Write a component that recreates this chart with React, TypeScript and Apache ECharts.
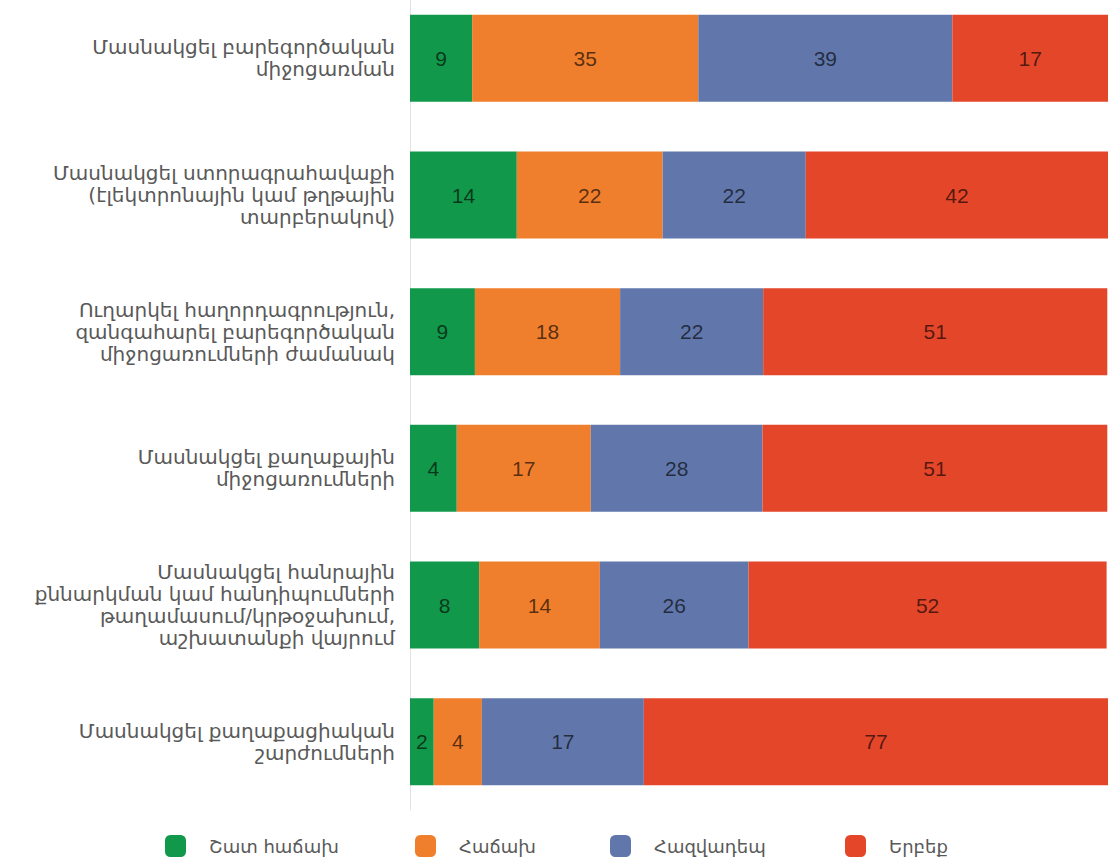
import React, { useEffect, useRef } from "react";
import * as echarts from "echarts";

const categories = [
  "Մասնակցել բարեգործական\nմիջոցառման",
  "Մասնակցել ստորագրահավաքի\n(էլեկտրոնային կամ թղթային\nտարբերակով)",
  "Ուղարկել հաղորդագրություն,\nզանգահարել բարեգործական\nմիջոցառումների ժամանակ",
  "Մասնակցել քաղաքային\nմիջոցառումների",
  "Մասնակցել հանրային\nքննարկման կամ հանդիպումների\nթաղամասում/կրթօջախում,\nաշխատանքի վայրում",
  "Մասնակցել քաղաքացիական\nշարժումների",
];

const seriesNames = ["Շատ հաճախ", "Հաճախ", "Հազվադեպ", "Երբեք"];
const seriesColors = ["#12984a", "#f07f2d", "#6177ab", "#e4462a"];

// bar lengths as drawn in the reference (percent of full width)
const veryOftenBars = [8.9, 15.3, 9.3, 6.7, 9.9, 3.4];
const oftenBars = [32.4, 20.9, 20.8, 19.2, 17.3, 6.9];
const rarelyBars = [36.4, 20.5, 20.5, 24.6, 21.3, 23.2];
const neverBars = [22.3, 43.3, 49.3, 49.4, 51.3, 66.5];

// numbers printed on the bars
const veryOftenLabels = [9, 14, 9, 4, 8, 2];
const oftenLabels = [35, 22, 18, 17, 14, 4];
const rarelyLabels = [39, 22, 22, 28, 26, 17];
const neverLabels = [17, 42, 51, 51, 52, 77];

const barSets = [veryOftenBars, oftenBars, rarelyBars, neverBars];
const labelSets = [veryOftenLabels, oftenLabels, rarelyLabels, neverLabels];
const legendLefts = [160, 410, 605, 840];

export default function App() {
  const ref = useRef<HTMLDivElement>(null);
  useEffect(() => {
    if (!ref.current) return;
    const chart = echarts.init(ref.current, undefined, { renderer: "svg" });
    const font = "'DejaVu Sans', 'Noto Sans', sans-serif";
    chart.setOption({
      animation: false,
      backgroundColor: "#ffffff",
      grid: { left: 410, right: 2, top: 0, bottom: 51, containLabel: false },
      legend: seriesNames.map((n, i) => ({
        data: [n],
        left: legendLefts[i],
        top: 840,
        itemWidth: 21,
        itemHeight: 22,
        itemGap: 0,
        icon: "roundRect",
        textStyle: { fontFamily: font, fontSize: 18, color: "#595959", padding: [0, 0, 0, 18] },
        selectedMode: false,
      })),
      xAxis: {
        type: "value",
        min: 0,
        max: 100,
        show: false,
      },
      yAxis: {
        type: "category",
        data: categories,
        inverse: true,
        axisLine: { show: true, lineStyle: { color: "#e3e3e3", width: 1 } },
        axisTick: { show: false },
        axisLabel: {
          margin: 15,
          fontFamily: font,
          fontSize: 20,
          lineHeight: 22,
          color: "#595959",
          align: "right",
        },
      },
      series: seriesNames.map((name, si) => ({
        name,
        type: "bar",
        stack: "total",
        barWidth: 87,
        data: barSets[si],
        itemStyle: { color: seriesColors[si] },
        label: {
          show: true,
          position: "inside",
          formatter: (p: any) => String(labelSets[si][p.dataIndex]),
          fontFamily: "'Liberation Sans Narrow', 'Arial Narrow', 'Liberation Sans', sans-serif",
          fontSize: 21,
          color: "rgba(0,0,0,0.65)",
        },
      })),
    });
    return () => chart.dispose();
  }, []);
  return (
    <div
      ref={ref}
      style={{ position: "absolute", left: 0, top: -10, width: 1110, height: 871 }}
    />
  );
}
